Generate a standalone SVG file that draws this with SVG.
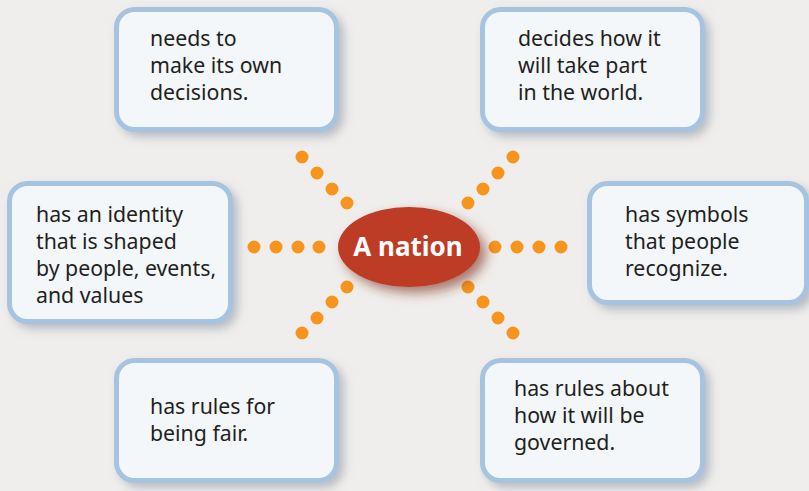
<svg xmlns="http://www.w3.org/2000/svg" width="809" height="491" viewBox="0 0 809 491">
<defs>
<filter id="boxShadow" x="-20%" y="-20%" width="150%" height="150%">
<feGaussianBlur in="SourceAlpha" stdDeviation="5"/>
<feOffset dx="5" dy="5" result="b"/>
<feFlood flood-color="#8a94a3" flood-opacity="0.55"/>
<feComposite in2="b" operator="in"/>
<feMerge><feMergeNode/><feMergeNode in="SourceGraphic"/></feMerge>
</filter>
<filter id="ovalShadow" x="-30%" y="-30%" width="160%" height="170%">
<feGaussianBlur in="SourceAlpha" stdDeviation="6"/>
<feOffset dx="6" dy="6" result="b"/>
<feFlood flood-color="#7a2a18" flood-opacity="0.6"/>
<feComposite in2="b" operator="in"/>
<feMerge><feMergeNode/><feMergeNode in="SourceGraphic"/></feMerge>
</filter>
</defs>
<style>
.box{fill:#f3f7fa;stroke:#a6c4e0;stroke-width:5}
.t{font-family:"Noto Sans","Open Sans","DejaVu Sans",sans-serif;font-size:21.3px;fill:#231f20}
.dot{fill:#f7941d}
.center{font-family:"Noto Sans","Open Sans","DejaVu Sans",sans-serif;font-size:26px;font-weight:bold;fill:#ffffff}
</style>
<rect x="0" y="0" width="809" height="491" fill="#efeeec"/>

<g id="connectors">
<g id="c-left"><circle class="dot" cx="254" cy="247" r="6.5"/><circle class="dot" cx="276" cy="247" r="6.5"/><circle class="dot" cx="298" cy="247" r="6.5"/><circle class="dot" cx="319" cy="247" r="6.5"/></g>
<g id="c-right"><circle class="dot" cx="495" cy="247" r="6.5"/><circle class="dot" cx="517" cy="247" r="6.5"/><circle class="dot" cx="539" cy="247" r="6.5"/><circle class="dot" cx="561" cy="247" r="6.5"/></g>
<g id="c-ul"><circle class="dot" cx="302" cy="157" r="6.5"/><circle class="dot" cx="317" cy="173" r="6.5"/><circle class="dot" cx="332" cy="189" r="6.5"/><circle class="dot" cx="347" cy="203" r="6.5"/></g>
<g id="c-ur"><circle class="dot" cx="513" cy="157" r="6.5"/><circle class="dot" cx="498" cy="173" r="6.5"/><circle class="dot" cx="483" cy="189" r="6.5"/><circle class="dot" cx="468" cy="203" r="6.5"/></g>
<g id="c-ll"><circle class="dot" cx="347" cy="287" r="6.5"/><circle class="dot" cx="332" cy="302" r="6.5"/><circle class="dot" cx="317" cy="318" r="6.5"/><circle class="dot" cx="302" cy="333" r="6.5"/></g>
<g id="c-lr"><circle class="dot" cx="468" cy="287" r="6.5"/><circle class="dot" cx="483" cy="302" r="6.5"/><circle class="dot" cx="498" cy="318" r="6.5"/><circle class="dot" cx="513" cy="333" r="6.5"/></g>
</g>

<g id="node-center">
<ellipse cx="409" cy="247" rx="71" ry="40" fill="#be3a26" filter="url(#ovalShadow)"/>
<text class="center" x="408" y="256" text-anchor="middle">A nation</text>
</g>

<g id="node-decisions">
<rect class="box" x="116.5" y="9.5" width="220" height="120" rx="18" filter="url(#boxShadow)"/>
<text class="t"><tspan x="150" y="46">needs to</tspan><tspan x="150" y="73">make its own</tspan><tspan x="150" y="100">decisions.</tspan></text>
</g>

<g id="node-world">
<rect class="box" x="482.5" y="9.5" width="220" height="120" rx="18" filter="url(#boxShadow)"/>
<text class="t"><tspan x="518" y="46">decides how it</tspan><tspan x="518" y="73">will take part</tspan><tspan x="518" y="100">in the world.</tspan></text>
</g>

<g id="node-identity">
<rect class="box" x="9.5" y="183.5" width="221" height="138" rx="18" filter="url(#boxShadow)"/>
<text class="t"><tspan x="36" y="222">has an identity</tspan><tspan x="36" y="249">that is shaped</tspan><tspan x="36" y="276">by people, events,</tspan><tspan x="36" y="303">and values</tspan></text>
</g>

<g id="node-symbols">
<rect class="box" x="589.5" y="183.5" width="217" height="119" rx="18" filter="url(#boxShadow)"/>
<text class="t"><tspan x="625" y="222">has symbols</tspan><tspan x="625" y="249">that people</tspan><tspan x="625" y="276">recognize.</tspan></text>
</g>

<g id="node-fair">
<rect class="box" x="116.5" y="360.5" width="220" height="120" rx="18" filter="url(#boxShadow)"/>
<text class="t"><tspan x="150" y="414">has rules for</tspan><tspan x="150" y="441">being fair.</tspan></text>
</g>

<g id="node-governed">
<rect class="box" x="482.5" y="360.5" width="220" height="120" rx="18" filter="url(#boxShadow)"/>
<text class="t"><tspan x="514" y="396">has rules about</tspan><tspan x="514" y="423">how it will be</tspan><tspan x="514" y="450">governed.</tspan></text>
</g>
</svg>
